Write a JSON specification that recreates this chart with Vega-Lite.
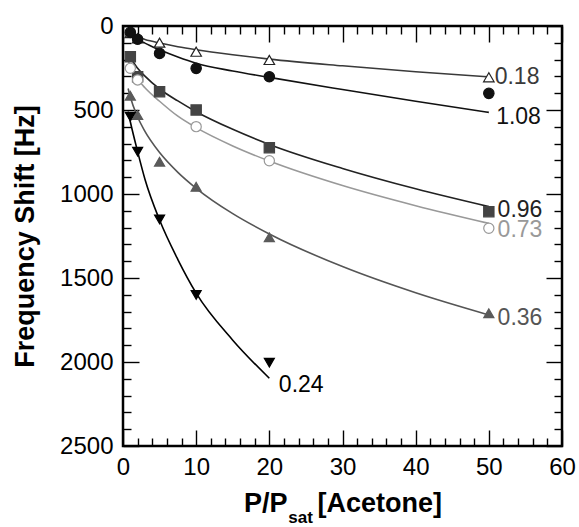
{
  "$schema": "https://vega.github.io/schema/vega-lite/v6.json",
  "width": 439,
  "height": 420,
  "autosize": {"type": "none"},
  "padding": {"left": 123, "top": 26, "right": 17, "bottom": 81},
  "background": "white",
  "config": {
    "font": "Liberation Sans",
    "view": {"stroke": null},
    "axis": {
      "grid": false,
      "domain": false,
      "ticks": true,
      "tickColor": "#000000",
      "tickOpacity": 1,
      "tickWidth": 1.4,
      "labelFont": "Liberation Sans",
      "labelFontSize": 24,
      "labelColor": "#000000",
      "titleFont": "Liberation Sans",
      "titleFontSize": 27,
      "titleFontWeight": "bold",
      "titleColor": "#000000",
      "labelFlush": false,
      "labelOverlap": false
    }
  },
  "datasets": {
    "curves": [
      {"series": "0.18", "x": 0.7, "y": 40}, {"series": "0.18", "x": 1, "y": 47}, {"series": "0.18", "x": 2, "y": 66}, {"series": "0.18", "x": 3, "y": 80}, {"series": "0.18", "x": 5, "y": 101}, {"series": "0.18", "x": 7.5, "y": 123}, {"series": "0.18", "x": 10, "y": 141}, {"series": "0.18", "x": 15, "y": 171}, {"series": "0.18", "x": 20, "y": 197}, {"series": "0.18", "x": 30, "y": 237}, {"series": "0.18", "x": 40, "y": 272}, {"series": "0.18", "x": 50, "y": 303},
      {"series": "1.08", "x": 0.7, "y": 45}, {"series": "1.08", "x": 1, "y": 55}, {"series": "1.08", "x": 2, "y": 82}, {"series": "1.08", "x": 3, "y": 102}, {"series": "1.08", "x": 5, "y": 142}, {"series": "1.08", "x": 7.5, "y": 185}, {"series": "1.08", "x": 10, "y": 222}, {"series": "1.08", "x": 15, "y": 268}, {"series": "1.08", "x": 20, "y": 306}, {"series": "1.08", "x": 30, "y": 378}, {"series": "1.08", "x": 40, "y": 448}, {"series": "1.08", "x": 50, "y": 514},
      {"series": "0.96", "x": 0.7, "y": 150}, {"series": "0.96", "x": 1, "y": 182}, {"series": "0.96", "x": 2, "y": 252}, {"series": "0.96", "x": 3, "y": 298}, {"series": "0.96", "x": 5, "y": 375}, {"series": "0.96", "x": 7.5, "y": 446}, {"series": "0.96", "x": 10, "y": 510}, {"series": "0.96", "x": 15, "y": 615}, {"series": "0.96", "x": 20, "y": 705}, {"series": "0.96", "x": 30, "y": 848}, {"series": "0.96", "x": 40, "y": 969}, {"series": "0.96", "x": 50, "y": 1075},
      {"series": "0.73", "x": 0.7, "y": 205}, {"series": "0.73", "x": 1, "y": 240}, {"series": "0.73", "x": 2, "y": 315}, {"series": "0.73", "x": 3, "y": 368}, {"series": "0.73", "x": 5, "y": 448}, {"series": "0.73", "x": 7.5, "y": 537}, {"series": "0.73", "x": 10, "y": 605}, {"series": "0.73", "x": 15, "y": 714}, {"series": "0.73", "x": 20, "y": 804}, {"series": "0.73", "x": 30, "y": 950}, {"series": "0.73", "x": 40, "y": 1070}, {"series": "0.73", "x": 50, "y": 1175},
      {"series": "0.36", "x": 0.7, "y": 372}, {"series": "0.36", "x": 1, "y": 423}, {"series": "0.36", "x": 2, "y": 542}, {"series": "0.36", "x": 3, "y": 627}, {"series": "0.36", "x": 5, "y": 753}, {"series": "0.36", "x": 7.5, "y": 871}, {"series": "0.36", "x": 10, "y": 966}, {"series": "0.36", "x": 15, "y": 1117}, {"series": "0.36", "x": 20, "y": 1238}, {"series": "0.36", "x": 30, "y": 1432}, {"series": "0.36", "x": 40, "y": 1588}, {"series": "0.36", "x": 50, "y": 1720},
      {"series": "0.24", "x": 0.7, "y": 510}, {"series": "0.24", "x": 1, "y": 570}, {"series": "0.24", "x": 2, "y": 748}, {"series": "0.24", "x": 3, "y": 912}, {"series": "0.24", "x": 5, "y": 1155}, {"series": "0.24", "x": 7.5, "y": 1390}, {"series": "0.24", "x": 10, "y": 1590}, {"series": "0.24", "x": 15, "y": 1870}, {"series": "0.24", "x": 20, "y": 2097}
    ],
    "points": [
      {"series": "0.18", "x": 1, "y": 42}, {"series": "0.18", "x": 2, "y": 73}, {"series": "0.18", "x": 5, "y": 99}, {"series": "0.18", "x": 10, "y": 153}, {"series": "0.18", "x": 20, "y": 202}, {"series": "0.18", "x": 50, "y": 305},
      {"series": "1.08", "x": 1, "y": 38}, {"series": "1.08", "x": 2, "y": 79}, {"series": "1.08", "x": 5, "y": 163}, {"series": "1.08", "x": 10, "y": 252}, {"series": "1.08", "x": 20, "y": 302}, {"series": "1.08", "x": 50, "y": 401},
      {"series": "0.96", "x": 1, "y": 183}, {"series": "0.96", "x": 2, "y": 302}, {"series": "0.96", "x": 5, "y": 391}, {"series": "0.96", "x": 10, "y": 500}, {"series": "0.96", "x": 20, "y": 724}, {"series": "0.96", "x": 50, "y": 1105},
      {"series": "0.73", "x": 1, "y": 252}, {"series": "0.73", "x": 2, "y": 321}, {"series": "0.73", "x": 10, "y": 599}, {"series": "0.73", "x": 20, "y": 802}, {"series": "0.73", "x": 50, "y": 1204},
      {"series": "0.36", "x": 1, "y": 415}, {"series": "0.36", "x": 2, "y": 530}, {"series": "0.36", "x": 5, "y": 808}, {"series": "0.36", "x": 10, "y": 957}, {"series": "0.36", "x": 20, "y": 1258}, {"series": "0.36", "x": 50, "y": 1710},
      {"series": "0.24", "x": 1, "y": 540}, {"series": "0.24", "x": 2, "y": 748}, {"series": "0.24", "x": 5, "y": 1151}, {"series": "0.24", "x": 10, "y": 1601}, {"series": "0.24", "x": 20, "y": 2004}
    ],
    "labels": [
      {"series": "0.18", "x": 50.8, "y": 304, "text": "0.18"},
      {"series": "1.08", "x": 51.0, "y": 540, "text": "1.08"},
      {"series": "0.96", "x": 51.2, "y": 1095, "text": "0.96"},
      {"series": "0.73", "x": 51.2, "y": 1212, "text": "0.73"},
      {"series": "0.36", "x": 51.2, "y": 1738, "text": "0.36"},
      {"series": "0.24", "x": 21.3, "y": 2137, "text": "0.24"}
    ]
  },
  "layer": [
    {
      "data": {"name": "curves"},
      "mark": {"type": "line", "strokeWidth": 1.6, "interpolate": "monotone"},
      "encoding": {
        "x": {
          "field": "x", "type": "quantitative",
          "scale": {"domain": [0, 60], "nice": false, "zero": false},
          "axis": {
            "orient": "bottom",
            "values": [0, 10, 20, 30, 40, 50, 60],
            "offset": -16,
            "tickSize": 16,
            "labelPadding": 9,
            "format": "d",
            "title": "P/P\u00a0\u00a0\u00a0\u00a0[Acetone]",
            "titlePadding": 11
          }
        },
        "y": {
          "field": "y", "type": "quantitative",
          "scale": {"domain": [0, 2500], "reverse": true, "nice": false, "zero": false},
          "axis": {
            "orient": "left",
            "values": [0, 500, 1000, 1500, 2000, 2500],
            "offset": -16,
            "tickSize": 16,
            "labelPadding": 10,
            "format": "d",
            "title": "Frequency Shift [Hz]",
            "titlePadding": 20
          }
        },
        "color": {
          "field": "series", "type": "nominal",
          "scale": {"domain": ["0.18", "1.08", "0.96", "0.73", "0.36", "0.24"], "range": ["#3a3a3a", "#111111", "#222222", "#999999", "#555555", "#000000"]},
          "legend": null
        }
      }
    },
    {
      "data": {"name": "points"},
      "mark": {"type": "point", "filled": true, "strokeWidth": 1.2, "opacity": 1},
      "encoding": {
        "x": {
          "field": "x", "type": "quantitative",
          "scale": {"domain": [0, 60], "nice": false, "zero": false},
          "axis": {"orient": "top", "values": [0, 10, 20, 30, 40, 50, 60], "offset": -16, "tickSize": 16, "labels": false, "title": null}
        },
        "y": {
          "field": "y", "type": "quantitative",
          "scale": {"domain": [0, 2500], "reverse": true, "nice": false, "zero": false},
          "axis": {"orient": "right", "values": [0, 500, 1000, 1500, 2000, 2500], "offset": -16, "tickSize": 16, "labels": false, "title": null}
        },
        "fill": {
          "field": "series", "type": "nominal",
          "scale": {"domain": ["0.18", "1.08", "0.96", "0.73", "0.36", "0.24"], "range": ["#ffffff", "#111111", "#444444", "#ffffff", "#5a5a5a", "#000000"]},
          "legend": null
        },
        "stroke": {
          "field": "series", "type": "nominal",
          "scale": {"domain": ["0.18", "1.08", "0.96", "0.73", "0.36", "0.24"], "range": ["#222222", "#111111", "#444444", "#999999", "#5a5a5a", "#000000"]},
          "legend": null
        },
        "shape": {
          "field": "series", "type": "nominal",
          "scale": {"domain": ["0.18", "1.08", "0.96", "0.73", "0.36", "0.24"], "range": ["triangle-up", "circle", "square", "circle", "triangle-up", "triangle-down"]},
          "legend": null
        },
        "size": {
          "field": "series", "type": "nominal",
          "scale": {"domain": ["0.18", "1.08", "0.96", "0.73", "0.36", "0.24"], "range": [110, 100, 150, 80, 140, 130]},
          "legend": null
        }
      }
    },
    {
      "data": {"name": "labels"},
      "mark": {"type": "text", "align": "left", "baseline": "middle", "fontSize": 23},
      "encoding": {
        "x": {
          "field": "x", "type": "quantitative",
          "scale": {"domain": [0, 60], "nice": false, "zero": false},
          "axis": {"orient": "bottom", "values": [2, 4, 6, 8, 12, 14, 16, 18, 22, 24, 26, 28, 32, 34, 36, 38, 42, 44, 46, 48, 52, 54, 56, 58], "offset": -8, "tickSize": 8, "labels": false, "title": null}
        },
        "y": {
          "field": "y", "type": "quantitative",
          "scale": {"domain": [0, 2500], "reverse": true, "nice": false, "zero": false},
          "axis": {"orient": "left", "values": [100, 200, 300, 400, 600, 700, 800, 900, 1100, 1200, 1300, 1400, 1600, 1700, 1800, 1900, 2100, 2200, 2300, 2400], "offset": -8, "tickSize": 8, "labels": false, "title": null}
        },
        "text": {"field": "text"},
        "color": {
          "field": "series", "type": "nominal",
          "scale": {"domain": ["0.18", "1.08", "0.96", "0.73", "0.36", "0.24"], "range": ["#3a3a3a", "#111111", "#222222", "#999999", "#555555", "#000000"]},
          "legend": null
        }
      }
    },
    {
      "data": {"values": [{}]},
      "mark": {"type": "text", "text": "sat", "align": "left", "baseline": "alphabetic", "fontSize": 17, "fontWeight": "bold", "dy": 77, "color": "#000000"},
      "encoding": {
        "x": {
          "datum": 22.6, "type": "quantitative",
          "scale": {"domain": [0, 60], "nice": false, "zero": false},
          "axis": {"orient": "top", "values": [2, 4, 6, 8, 12, 14, 16, 18, 22, 24, 26, 28, 32, 34, 36, 38, 42, 44, 46, 48, 52, 54, 56, 58], "offset": -8, "tickSize": 8, "labels": false, "title": null}
        },
        "y": {
          "datum": 2500, "type": "quantitative",
          "scale": {"domain": [0, 2500], "reverse": true, "nice": false, "zero": false},
          "axis": {"orient": "right", "values": [100, 200, 300, 400, 600, 700, 800, 900, 1100, 1200, 1300, 1400, 1600, 1700, 1800, 1900, 2100, 2200, 2300, 2400], "offset": -8, "tickSize": 8, "labels": false, "title": null}
        }
      }
    },
    {
      "data": {"values": [{}]},
      "mark": {"type": "rect", "filled": false, "stroke": "#000000", "strokeWidth": 2.5},
      "encoding": {
        "x": {"datum": 0, "type": "quantitative", "scale": {"domain": [0, 60], "nice": false, "zero": false}, "axis": null},
        "x2": {"datum": 60},
        "y": {"datum": 0, "type": "quantitative", "scale": {"domain": [0, 2500], "reverse": true, "nice": false, "zero": false}, "axis": null},
        "y2": {"datum": 2500}
      }
    }
  ],
  "resolve": {"axis": {"x": "independent", "y": "independent"}}
}
